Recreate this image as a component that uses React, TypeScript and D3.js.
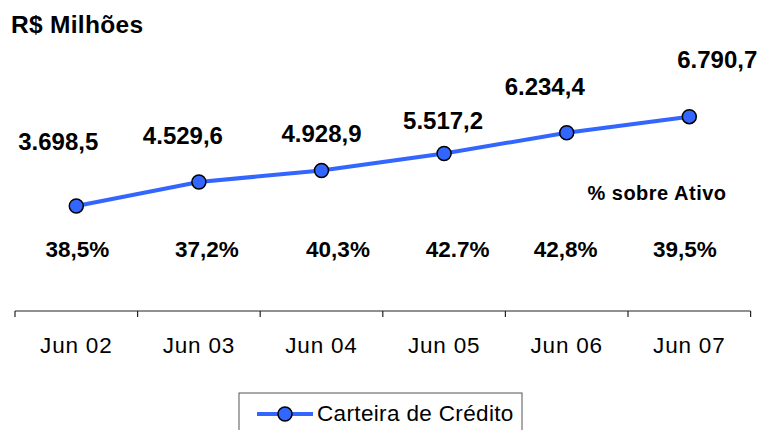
import React from "react";
import * as d3 from "d3";

const categories = ["Jun 02", "Jun 03", "Jun 04", "Jun 05", "Jun 06", "Jun 07"];
const carteira = [3698.5, 4529.6, 4928.9, 5517.2, 6234.4, 6790.7];
const valueLabels = ["3.698,5", "4.529,6", "4.928,9", "5.517,2", "6.234,4", "6.790,7"];
const pctLabels = ["38,5%", "37,2%", "40,3%", "42.7%", "42,8%", "39,5%"];
const title = "R$ Milhões";
const pctTitle = "% sobre Ativo";
const seriesName = "Carteira de Crédito";

// layout nudges (manual label placements as in the original)
const valueNudge: [number, number][] = [
  [-18, -56], [-16, -38], [0, -28], [-1, -24], [-22, -38], [28, -49],
];
const pctNudge = [1, 8, 16.5, 13.5, -1, -4.5];

const W = 760;
const H = 430;
const FONT = "'Liberation Sans', Arial, Helvetica, sans-serif";
const BLUE = "#3366FF";

export default function App() {
  const x = d3.scaleBand<string>().domain(categories).range([15, 750.6]).padding(0);
  const y = d3.scaleLinear().domain([3698.5, 6790.7]).range([206, 116.7]);
  const cx = (c: string) => (x(c) as number) + x.bandwidth() / 2;
  const line = d3
    .line<number>()
    .x((_, i) => cx(categories[i]))
    .y((d) => y(d));
  const axisY = 311;
  const ticks = [...categories.map((c) => x(c) as number), 750.6];

  return (
    <svg
      width={W}
      height={H}
      style={{ position: "absolute", left: 0, top: 0, background: "#fff" }}
      fontFamily={FONT}
    >
      <rect x={0} y={0} width={W} height={H} fill="#fff" />
      <text x={11} y={33} fontSize={24.5} fontWeight="bold" fill="#000" letterSpacing={0.3}>
        {title}
      </text>

      {/* axis */}
      <line x1={15} x2={750.6} y1={axisY} y2={axisY} stroke="#222" strokeWidth={1.2} />
      {ticks.map((t, i) => (
        <line key={i} x1={t} x2={t} y1={axisY} y2={axisY + 6} stroke="#222" strokeWidth={1.2} />
      ))}
      {categories.map((c) => (
        <text key={c} x={cx(c)} y={353} fontSize={22.5} textAnchor="middle" fill="#000" letterSpacing={0.8}>
          {c}
        </text>
      ))}

      {/* line */}
      <path d={line(carteira) || ""} fill="none" stroke={BLUE} strokeWidth={4} />
      {carteira.map((v, i) => (
        <circle key={i} cx={cx(categories[i])} cy={y(v)} r={7} fill={BLUE} stroke="#000" strokeWidth={1.5} />
      ))}

      {/* value labels */}
      {carteira.map((v, i) => (
        <text
          key={i}
          x={cx(categories[i]) + valueNudge[i][0]}
          y={y(v) + valueNudge[i][1]}
          fontSize={24}
          fontWeight="bold"
          textAnchor="middle"
          fill="#000"
        >
          {valueLabels[i]}
        </text>
      ))}

      {/* percent labels */}
      <text x={657} y={200} fontSize={20} fontWeight="bold" textAnchor="middle" fill="#000" letterSpacing={0.5}>
        {pctTitle}
      </text>
      {pctLabels.map((p, i) => (
        <text
          key={i}
          x={cx(categories[i]) + pctNudge[i]}
          y={257}
          fontSize={22.5}
          fontWeight="bold"
          textAnchor="middle"
          fill="#000"
        >
          {p}
        </text>
      ))}

      {/* legend */}
      <rect x={239} y={393} width={283} height={45} fill="#fff" stroke="#555" strokeWidth={1} />
      <line x1={257} x2={313} y1={414} y2={414} stroke={BLUE} strokeWidth={4} />
      <circle cx={285} cy={414} r={7} fill={BLUE} stroke="#000" strokeWidth={1.5} />
      <text x={317} y={421} fontSize={22.5} fill="#000" letterSpacing={0.35}>
        {seriesName}
      </text>
    </svg>
  );
}
